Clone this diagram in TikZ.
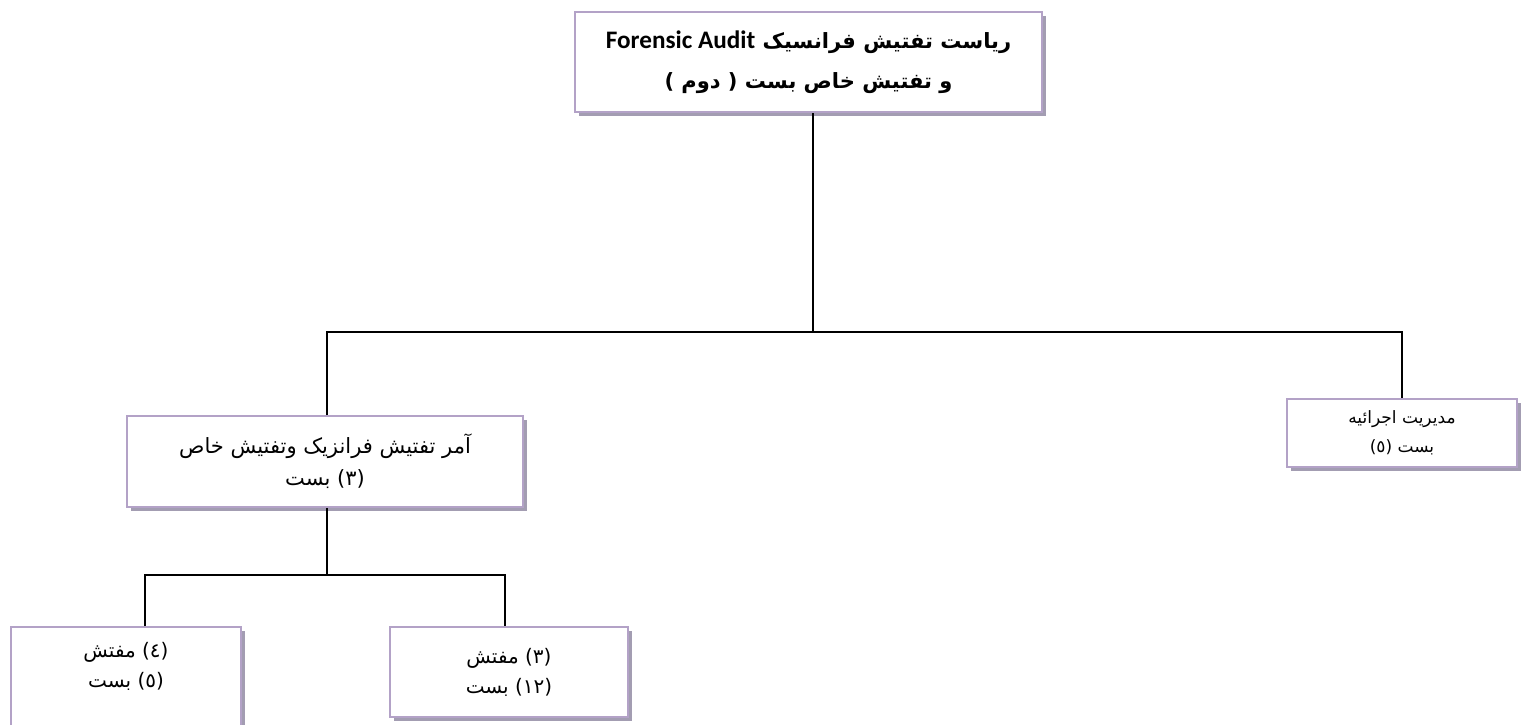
\documentclass[tikz,border=0pt]{standalone}
\usepackage{fontspec}
\usetikzlibrary{shadows}
\TeXXeTstate=1
\newfontfamily\arabicfont[Script=Arabic]{DejaVu Sans}
\newfontfamily\latinbold[Scale=1.2]{Carlito}
\definecolor{boxline}{RGB}{179,162,199}
\definecolor{boxshadow}{RGB}{163,157,178}

\begin{document}
\begin{tikzpicture}[x=1pt,y=-1pt,
  unit/.style={draw=boxline, line width=2pt, fill=white, align=center, inner sep=0pt,
    drop shadow={shadow xshift=4pt, shadow yshift=-4pt, fill=boxshadow, opacity=1}},
  link/.style={line width=1.6pt}]
\useasboundingbox (0,0) rectangle (1521,724);

\node[unit, minimum width=467pt, minimum height=100pt, font=\fontsize{21}{40}\selectfont\bfseries\arabicfont] (head) at (808.5,62)
  {\beginR ریاست تفتیش فرانسیک \beginL{\latinbold Forensic Audit}\endL\endR\\
   \beginR و تفتیش خاص  بست ( دوم )\endR};

\node[unit, minimum width=396pt, minimum height=91pt, font=\fontsize{21}{32}\selectfont\arabicfont] (chief) at (325,461.5)
  {\beginR آمر تفتیش فرانزیک وتفتیش خاص\endR\\ \beginR (٣) بست\endR};
\node[unit, minimum width=230pt, minimum height=68pt, font=\fontsize{17}{29}\selectfont\arabicfont] (exec) at (1402,433)
  {\beginR مدیریت اجرائیه\endR\\ \beginR بست (٥)\endR};

\node[unit, minimum width=230pt, minimum height=100pt, text depth=24pt, font=\fontsize{20}{30}\selectfont\arabicfont] (insp4) at (126,677)
  {\beginR (٤) مفتش\endR\\ \beginR (٥) بست\endR};
\node[unit, minimum width=238pt, minimum height=90pt, font=\fontsize{20}{30}\selectfont\arabicfont] (insp3) at (509,672)
  {\beginR (٣) مفتش\endR\\ \beginR (١٢) بست\endR};

\coordinate (busA) at (813,332);
\coordinate (busB) at (327,575);

\draw[link] (head.south -| busA) -- (busA);
\draw[link] (chief.north -| busB) |- (busA) -| (exec.north);
\draw[link] (chief.south -| busB) -- (busB);
\draw[link] ([xshift=19pt]insp4.north) |- (busB) -| ([xshift=-4pt]insp3.north);

\end{tikzpicture}
\end{document}
